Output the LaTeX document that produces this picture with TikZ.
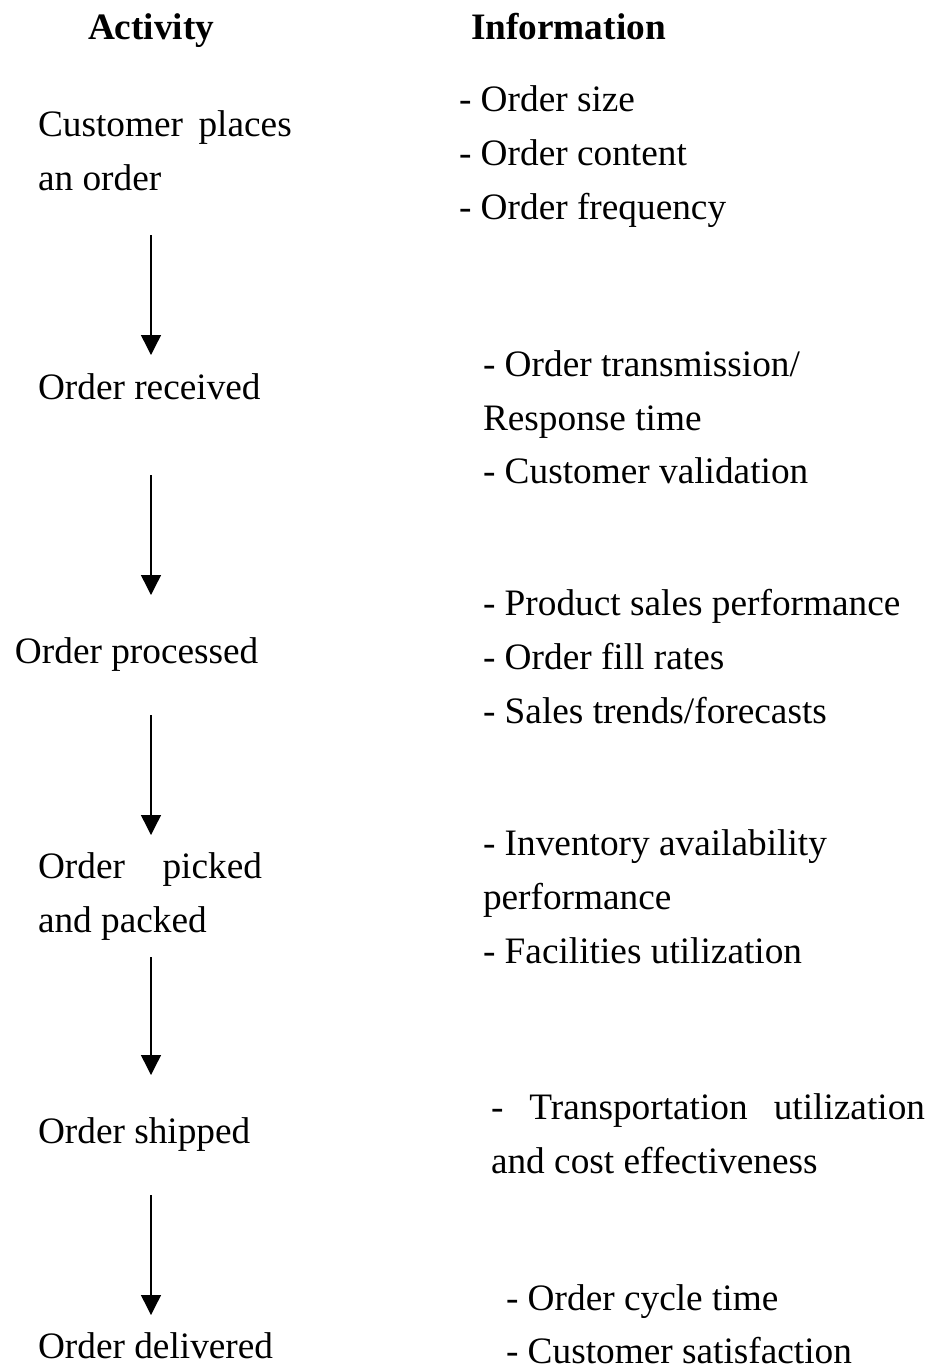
\documentclass[tikz,border=0pt]{standalone}
\usepackage{fontspec}
\setmainfont{Liberation Serif}
\usetikzlibrary{arrows.meta}

\tikzset{
  txt/.style={anchor=base west, inner sep=0pt, outer sep=0pt,
              font=\fontsize{37.3}{44}\selectfont},
  head/.style={txt, font=\fontsize{37.3}{44}\selectfont\bfseries},
  flow/.style={line width=1.4pt, -{Triangle[width=20pt,length=20pt]}},
}

\begin{document}
\begin{tikzpicture}[x=1pt,y=-1pt]
  \useasboundingbox (0,0) rectangle (930,1369);

  % column headings
  \node[head] (hAct)  at (88,39)  {Activity};
  \node[head] (hInfo) at (471,39) {Information};

  % activities
  \node[txt] (a1a) at (38,136)  {Customer\, places};
  \node[txt] (a1b) at (38,190)  {an order};
  \node[txt] (a2)  at (38,399)  {Order received};
  \node[txt] (a3)  at (15,663)  {Order processed};
  \node[txt] (a4a) at (38,878)  {\makebox[224pt][s]{Order\hfill picked}};
  \node[txt] (a4b) at (38,932)  {and packed};
  \node[txt] (a5)  at (38,1143) {Order shipped};
  \node[txt] (a6)  at (38,1358) {Order delivered};

  % information
  \node[txt] (i1a) at (459,111)  {- Order size};
  \node[txt] (i1b) at (459,165)  {- Order content};
  \node[txt] (i1c) at (459,219)  {- Order frequency};

  \node[txt] (i2a) at (483,376)  {- Order transmission/};
  \node[txt] (i2b) at (483,430)  {Response time};
  \node[txt] (i2c) at (483,483)  {- Customer validation};

  \node[txt] (i3a) at (483,615)  {- Product sales performance};
  \node[txt] (i3b) at (483,669)  {- Order fill rates};
  \node[txt] (i3c) at (483,723)  {- Sales trends/forecasts};

  \node[txt] (i4a) at (483,855)  {- Inventory availability};
  \node[txt] (i4b) at (483,909)  {performance};
  \node[txt] (i4c) at (483,963)  {- Facilities utilization};

  \node[txt] (i5a) at (491,1119) {\makebox[434pt][s]{-\hfill Transportation\hfill utilization}};
  \node[txt] (i5b) at (491,1173) {and cost effectiveness};

  \node[txt] (i6a) at (506,1310) {- Order cycle time};
  \node[txt, text depth=0pt] (i6b) at (506,1363) {- Customer satisfaction};

  % arrow end points
  \coordinate (s1) at (151,235);  \coordinate (e1) at (151,355);
  \coordinate (s2) at (151,475);  \coordinate (e2) at (151,595);
  \coordinate (s3) at (151,715);  \coordinate (e3) at (151,835);
  \coordinate (s4) at (151,957);  \coordinate (e4) at (151,1075);
  \coordinate (s5) at (151,1195); \coordinate (e5) at (151,1315);

  \foreach \k in {1,...,5} \draw[flow] (s\k) -- (e\k);
\end{tikzpicture}
\end{document}
